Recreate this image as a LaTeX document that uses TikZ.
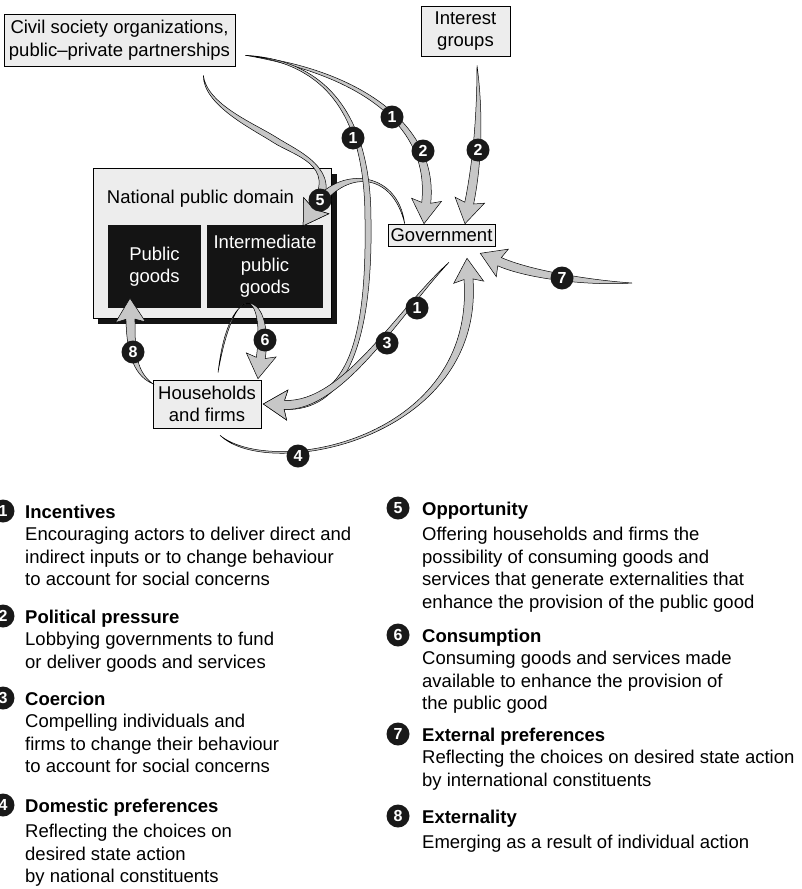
\documentclass[tikz,border=0pt]{standalone}
\usepackage{fontspec}
\setmainfont{Liberation Sans}
\usetikzlibrary{calc}

\tikzset{
  txt/.style={font=\fontsize{18.5}{22.5}\selectfont},
  litebox/.style={txt, draw=black, fill=black!7, line width=0.6pt, inner sep=0pt, align=center},
  darkbox/.style={txt, fill=black!92, text=white, inner sep=0pt, align=center},
  num/.style={circle, fill=black!90, text=white, inner sep=0pt, minimum size=23pt,
    font=\bfseries\fontsize{16}{16}\selectfont},
  flowline/.style={fill=black!22, draw=black, line width=0.5pt},
  key/.style={txt, anchor=base west, inner sep=0pt}
}

% tapered arrows
\def\headlen{21pt}
\def\headback{24pt}
\def\headw{15pt}
\def\bodyw{4.5pt}
\def\midw{3pt}
\def\tailw{2pt}
% tail, control, control, tip
\newcommand\flowarrow[4]{%
  \coordinate (fS) at #1;
  \coordinate (fA) at #2;
  \coordinate (fD) at #3;
  \coordinate (fT) at #4;
  \coordinate (fE) at ($(fT)!\headlen!(fD)$);
  \coordinate (fK) at ($(fT)!\headback!(fD)$);
  \filldraw[flowline] (fS) .. controls ($(fA)!\midw!90:(fS)$) and ($(fD)!\bodyw!-90:(fE)$) .. ($(fE)!\bodyw!90:(fD)$)
    -- ($(fK)!\headw!90:(fD)$) -- (fT) -- ($(fK)!\headw!-90:(fD)$)
    -- ($(fE)!\bodyw!-90:(fD)$) .. controls ($(fD)!\bodyw!90:(fE)$) and ($(fA)!\midw!-90:(fS)$) .. (fS) -- cycle;
}
% tail, control, control, middle, control, control, tip
\newcommand\flowvia[7]{%
  \coordinate (fS) at #1;
  \coordinate (fA) at #2;
  \coordinate (fB) at #3;
  \coordinate (fM) at #4;
  \coordinate (fC) at #5;
  \coordinate (fD) at #6;
  \coordinate (fT) at #7;
  \coordinate (fE) at ($(fT)!\headlen!(fD)$);
  \coordinate (fK) at ($(fT)!\headback!(fD)$);
  \filldraw[flowline] (fS) .. controls ($(fA)!\tailw!90:(fS)$) and ($(fB)!\midw!-90:(fM)$) .. ($(fM)!\midw!90:(fB)$)
    .. controls ($(fC)!\midw!90:(fM)$) and ($(fD)!\bodyw!-90:(fE)$) .. ($(fE)!\bodyw!90:(fD)$)
    -- ($(fK)!\headw!90:(fD)$) -- (fT) -- ($(fK)!\headw!-90:(fD)$)
    -- ($(fE)!\bodyw!-90:(fD)$) .. controls ($(fD)!\bodyw!90:(fE)$) and ($(fC)!\midw!-90:(fM)$) .. ($(fM)!\midw!-90:(fB)$)
    .. controls ($(fB)!\midw!90:(fM)$) and ($(fA)!\tailw!-90:(fS)$) .. (fS) -- cycle;
}

\begin{document}
\begin{tikzpicture}[x=1pt,y=1pt]
\useasboundingbox (0,0) rectangle (801,-889);
% actors
\node [litebox, minimum width=231pt, minimum height=52pt] (civ) at (119.5,-40) {Civil society organizations,\\public--private partnerships};
\node [litebox, minimum width=89pt, minimum height=50pt] (intg) at (465.5,-31) {Interest\\groups};
\node [litebox, minimum width=107pt, minimum height=22pt] (gov) at (441.5,-235) {Government};
\coordinate (intl) at (632,-283);
% national public domain
\fill [black!92] (98,-174) rectangle (337,-324);
\node [litebox, minimum width=238pt, minimum height=150pt] (dom) at (212,-243) {};
\node [txt, anchor=base west, inner sep=0pt] (domlbl) at ([shift={(14pt,-36pt)}]dom.north west) {National public domain};
\node [darkbox, minimum width=93pt, minimum height=83pt] (pub) at (154.5,-266.5) {Public\\goods};
\node [darkbox, minimum width=116pt, minimum height=83pt] (ipg) at (265,-266.5) {Intermediate\\public\\goods};
\node [litebox, minimum width=108pt, minimum height=48pt] (hh) at (207,-404) {Households\\and firms};
% flows
\flowvia{([shift={(-32pt,-9pt)}]civ.south east)}{(205,-105)}{(254,-126.5)}{(275,-140)}{(296,-153.5)}{(341,-167)}{([shift={(-20pt,-1pt)}]ipg.north east)}
\flowarrow{([xshift=17pt]gov.north west)}{(395,-170)}{(341,-167)}{([shift={(-20pt,-1pt)}]ipg.north east)}
\flowarrow{([shift={(10pt,11pt)}]civ.south east)}{(350,-70)}{(435,-120)}{([xshift=-17.5pt]gov.north)}
\flowvia{([shift={(10pt,11pt)}]civ.south east)}{(330,-62)}{(368,-120)}{(368,-220)}{(370,-350)}{(343,-407.5)}{([xshift=2pt]hh.east)}
\flowarrow{([shift={(11.5pt,-9pt)}]intg.south)}{(480,-110)}{(478,-160)}{([xshift=23.5pt]gov.north)}
\flowarrow{([shift={(7.5pt,-16pt)}]gov.south)}{(400,-310)}{(343,-407.5)}{([xshift=2pt]hh.east)}
\flowarrow{(intl)}{(590,-283)}{(530,-275)}{([shift={(-15pt,-7pt)}]gov.south east)}
\flowarrow{([shift={(13pt,-7pt)}]hh.south)}{(270,-480)}{(480,-440)}{([shift={(25.5pt,-12pt)}]gov.south)}
\flowarrow{([shift={(11pt,7pt)}]hh.north)}{(232,-275)}{(270,-290)}{([shift={(51pt,1pt)}]hh.north)}
\flowarrow{([yshift=-4pt]hh.north west)}{(132,-372)}{(131,-345)}{([shift={(-24.5pt,10pt)}]pub.south)}
% numbers on the flows
\node [num] (n1a) at (392,-117) {1};
\node [num] (n2a) at (423,-151) {2};
\node [num] (n1b) at (353,-138) {1};
\node [num] (n2b) at (478,-150) {2};
\node [num] (n5) at (320,-200) {5};
\node [num] (n7) at (562,-278) {7};
\node [num] (n1c) at (417,-308) {1};
\node [num] (n3) at (387,-343) {3};
\node [num] (n6) at (265,-340) {6};
\node [num] (n8) at (133,-352) {8};
\node [num] (n4) at (298,-456) {4};
% key
\node [num] (k1) at (3,-511) {1};
\node [key] (k1t) at (25,-518) {\parbox[t]{380pt}{\textbf{Incentives}\\Encouraging actors to deliver direct and\\indirect inputs or to change behaviour\\to account for social concerns}};
\node [num] (k2) at (3,-616) {2};
\node [key] (k2t) at (25,-623) {\parbox[t]{380pt}{\textbf{Political pressure}\\Lobbying governments to fund\\or deliver goods and services}};
\node [num] (k3) at (3,-698) {3};
\node [key] (k3t) at (25,-705) {\parbox[t]{380pt}{\textbf{Coercion}\\Compelling individuals and\\firms to change their behaviour\\to account for social concerns}};
\node [num] (k4) at (3,-805) {4};
\node [key] (k4t) at (25,-812) {\parbox[t]{380pt}{\textbf{Domestic preferences}\\[3pt]Reflecting the choices on\\desired state action\\by national constituents}};
\node [num] (k5) at (398,-508) {5};
\node [key] (k5t) at (422,-515) {\parbox[t]{380pt}{\textbf{Opportunity}\\[3pt]Offering households and firms the\\possibility of consuming goods and\\services that generate externalities that\\enhance the provision of the public good}};
\node [num] (k6) at (398,-635) {6};
\node [key] (k6t) at (422,-642) {\parbox[t]{380pt}{\textbf{Consumption}\\Consuming goods and services made\\available to enhance the provision of\\the public good}};
\node [num] (k7) at (398,-734) {7};
\node [key] (k7t) at (422,-741) {\parbox[t]{380pt}{\textbf{External preferences}\\Reflecting the choices on desired state action\\by international constituents}};
\node [num] (k8) at (398,-816) {8};
\node [key] (k8t) at (422,-823) {\parbox[t]{380pt}{\textbf{Externality}\\[3pt]Emerging as a result of individual action}};
\end{tikzpicture}
\end{document}
